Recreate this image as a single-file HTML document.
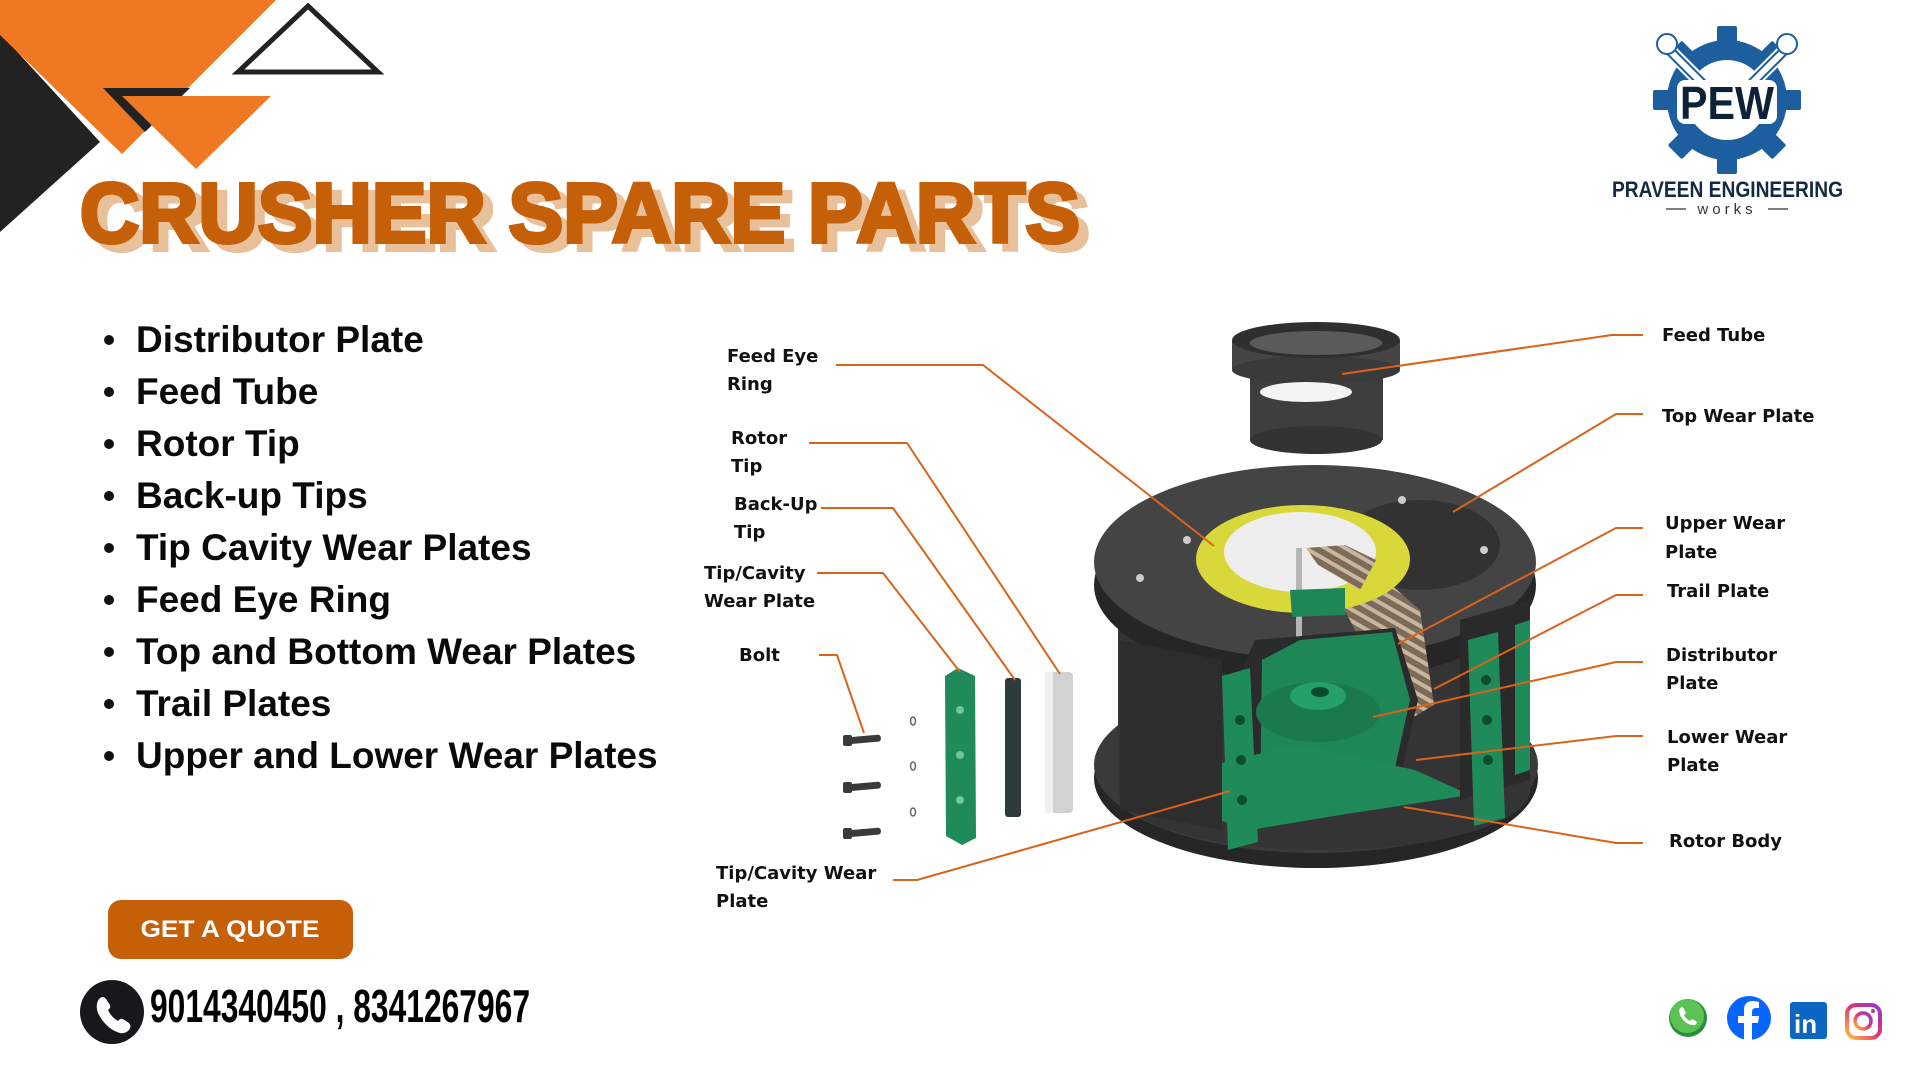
<!DOCTYPE html>
<html><head><meta charset="utf-8"><style>
html,body{margin:0;padding:0;background:#fff;}
svg{display:block;}
text{font-family:"Liberation Sans",sans-serif;}
.lb{font-family:"DejaVu Sans","Liberation Sans",sans-serif;font-weight:bold;font-size:18px;fill:#111;}
.bl{font-weight:bold;font-size:37px;fill:#0a0a0a;}
.ln{fill:none;stroke:#d9631a;stroke-width:2;}
</style></head><body>
<svg width="1920" height="1080" viewBox="0 0 1920 1080" xmlns="http://www.w3.org/2000/svg">
<defs>
<linearGradient id="ig" x1="0" y1="1" x2="1" y2="0"><stop offset="0" stop-color="#fdc242"/><stop offset="0.5" stop-color="#e8336b"/><stop offset="1" stop-color="#8a3ad6"/></linearGradient>
<pattern id="tex" width="10" height="10" patternUnits="userSpaceOnUse" patternTransform="rotate(30)"><rect width="10" height="10" fill="#7d6a58"/><rect width="10" height="4" fill="#c8b8a0"/></pattern>
</defs>
<polygon points="0,33 100,142 0,232" fill="#222"/>
<polygon points="0,0 276,0 122,154 0,35" fill="#ef7823"/>
<polygon points="103,88 190,88 145,132" fill="#222"/>
<polygon points="122,96 271,96 196,169" fill="#ef7823"/>
<polygon points="308,6 378,72 238,72" fill="none" stroke="#222" stroke-width="5" stroke-linejoin="miter"/>
<text x="90" y="250" textLength="1000" lengthAdjust="spacingAndGlyphs" font-size="84" font-weight="bold" fill="#e8c09a" stroke="#e8c09a" stroke-width="4">CRUSHER SPARE PARTS</text>
<text x="80" y="242" textLength="1000" lengthAdjust="spacingAndGlyphs" font-size="84" font-weight="bold" fill="#c55f08" stroke="#c55f08" stroke-width="4">CRUSHER SPARE PARTS</text>
<g>
<circle cx="109" cy="340" r="5" fill="#111"/><text class="bl" x="136" y="352">Distributor Plate</text>
<circle cx="109" cy="392" r="5" fill="#111"/><text class="bl" x="136" y="404">Feed Tube</text>
<circle cx="109" cy="444" r="5" fill="#111"/><text class="bl" x="136" y="456">Rotor Tip</text>
<circle cx="109" cy="496" r="5" fill="#111"/><text class="bl" x="136" y="508">Back-up Tips</text>
<circle cx="109" cy="548" r="5" fill="#111"/><text class="bl" x="136" y="560">Tip Cavity Wear Plates</text>
<circle cx="109" cy="600" r="5" fill="#111"/><text class="bl" x="136" y="612">Feed Eye Ring</text>
<circle cx="109" cy="652" r="5" fill="#111"/><text class="bl" x="136" y="664">Top and Bottom Wear Plates</text>
<circle cx="109" cy="704" r="5" fill="#111"/><text class="bl" x="136" y="716">Trail Plates</text>
<circle cx="109" cy="756" r="5" fill="#111"/><text class="bl" x="136" y="768">Upper and Lower Wear Plates</text>
</g>
<rect x="108" y="900" width="245" height="59" rx="13" fill="#c55f08"/>
<text x="230" y="937" text-anchor="middle" font-size="24" font-weight="bold" fill="#fff" textLength="179" lengthAdjust="spacingAndGlyphs">GET A QUOTE</text>
<circle cx="112" cy="1012" r="32" fill="#17181c"/>
<path d="M99,999 q4,-4 7,0 l4,6 q1,3 -2,5 q3,7 10,11 q2,-3 5,-2 l6,4 q3,3 0,7 q-4,4 -9,3 q-14,-4 -22,-20 q-3,-8 1,-14z" fill="#fff"/>
<text x="150" y="1022" font-size="46" font-weight="bold" fill="#000" textLength="380" lengthAdjust="spacingAndGlyphs">9014340450 , 8341267967</text>
<g transform="translate(1727,100)">
<g fill="#1d5f9e">
<rect x="-10" y="-74" width="20" height="18" rx="2"/>
<rect x="-10" y="-74" width="20" height="18" rx="2" transform="rotate(45)"/>
<rect x="-10" y="-74" width="20" height="18" rx="2" transform="rotate(90)"/>
<rect x="-10" y="-74" width="20" height="18" rx="2" transform="rotate(135)"/>
<rect x="-10" y="-74" width="20" height="18" rx="2" transform="rotate(180)"/>
<rect x="-10" y="-74" width="20" height="18" rx="2" transform="rotate(225)"/>
<rect x="-10" y="-74" width="20" height="18" rx="2" transform="rotate(270)"/>
<rect x="-10" y="-74" width="20" height="18" rx="2" transform="rotate(315)"/>
<circle r="60"/>
</g>
<circle r="40" fill="#fff"/>
<path d="M-58,-50 l38,38 M58,-50 l-38,38" stroke="#fff" stroke-width="14"/>
<path d="M-58,-50 l38,38 M58,-50 l-38,38" stroke="#1d5f9e" stroke-width="10" stroke-linecap="round"/>
<path d="M-58,-50 l38,38 M58,-50 l-38,38" stroke="#fff" stroke-width="6" stroke-linecap="round"/>
<circle cx="-60" cy="-56" r="10" fill="#fff" stroke="#1d5f9e" stroke-width="2"/>
<circle cx="60" cy="-56" r="10" fill="#fff" stroke="#1d5f9e" stroke-width="2"/>
<rect x="-50" y="-20" width="100" height="44" rx="8" fill="#fff"/>
<text x="0" y="19" text-anchor="middle" font-size="46" font-weight="bold" fill="#0d2238" textLength="94" lengthAdjust="spacingAndGlyphs">PEW</text>
</g>
<text x="1612" y="197" font-size="22" font-weight="bold" fill="#142a44" textLength="231" lengthAdjust="spacingAndGlyphs">PRAVEEN ENGINEERING</text>
<line x1="1666" y1="209" x2="1686" y2="209" stroke="#555" stroke-width="1.5"/>
<line x1="1768" y1="209" x2="1788" y2="209" stroke="#555" stroke-width="1.5"/>
<text x="1727" y="214" text-anchor="middle" font-size="15" fill="#333" letter-spacing="4">works</text>
<circle cx="1688" cy="1018" r="19" fill="#2a8f3a"/><circle cx="1687" cy="1016" r="17" fill="#5cc253"/>
<path d="M1680,1008 q3,-2 4,1 l2,4 -2,2 q2,4 6,6 l2,-2 4,2 q2,2 -1,4 q-8,1 -14,-8 q-3,-6 -1,-9z" fill="#fff"/>
<circle cx="1749" cy="1018" r="22" fill="#0866ff"/>
<path d="M1752,1040 v-17 h6 l1,-7 h-7 v-4 q0,-4 4,-4 h3 v-6 q-3,-1 -6,-1 q-9,0 -9,9 v6 h-6 v7 h6 v17z" fill="#fff"/>
<rect x="1790" y="1002" width="37" height="37" rx="3" fill="#0a66c2"/>
<text x="1794" y="1033" font-size="26" font-weight="bold" fill="#fff">in</text>
<rect x="1847" y="1005" width="33" height="33" rx="9" fill="none" stroke="url(#ig)" stroke-width="4"/>
<circle cx="1863" cy="1021" r="8" fill="none" stroke="url(#ig)" stroke-width="3.5"/>
<circle cx="1873" cy="1011" r="2" fill="#c13584"/>
<g>
<rect x="1250" y="355" width="133" height="85" fill="#3e3e3e"/>
<ellipse cx="1316" cy="440" rx="66" ry="14" fill="#333"/>
<rect x="1232" y="340" width="168" height="30" fill="#454545"/>
<ellipse cx="1316" cy="370" rx="84" ry="14" fill="#3a3a3a"/>
<ellipse cx="1316" cy="340" rx="84" ry="18" fill="#2f2f2f"/>
<ellipse cx="1316" cy="343" rx="66" ry="12" fill="#5a5a5a"/>
<ellipse cx="1306" cy="392" rx="46" ry="10" fill="#f4f4f4"/>
</g>
<ellipse cx="1316" cy="778" rx="222" ry="90" fill="#262626"/>
<ellipse cx="1316" cy="765" rx="222" ry="88" fill="#3a3a3a"/>
<rect x="1118" y="585" width="412" height="205" fill="#343434"/>
<ellipse cx="1324" cy="790" rx="206" ry="60" fill="#343434"/>
<ellipse cx="1315" cy="585" rx="221" ry="97" fill="#262626"/>
<ellipse cx="1315" cy="562" rx="221" ry="97" fill="#444"/>
<ellipse cx="1420" cy="545" rx="80" ry="45" fill="#262626" opacity="0.6"/>
<ellipse cx="1300" cy="556" rx="76" ry="40" fill="#eeeeee"/>
<polygon points="1306,548 1345,545 1420,610 1434,705 1400,725 1350,620 1318,565" fill="url(#tex)"/>
<rect x="1296" y="548" width="6" height="125" fill="#b5b5b5"/>
<polygon points="1255,640 1395,628 1418,700 1395,800 1250,822 1228,700" fill="#2b2b2b"/>
<polygon points="1262,660 1300,640 1392,632 1410,700 1390,790 1260,805" fill="#1f8658"/>
<ellipse cx="1318" cy="712" rx="62" ry="30" fill="#1a7a4e"/>
<ellipse cx="1318" cy="696" rx="28" ry="14" fill="#25a06a"/>
<ellipse cx="1320" cy="692" rx="9" ry="5" fill="#0e4a2e"/>
<polygon points="1140,795 1230,760 1300,745 1415,770 1470,795 1340,815 1250,830" fill="#1e8a5a"/>
<polygon points="1460,620 1530,600 1530,780 1460,800" fill="#2a2a2a"/>
<polygon points="1120,640 1222,660 1222,830 1120,810" fill="#2d2d2d"/>
<ellipse cx="1303" cy="559" rx="107" ry="54" fill="#d9d83a"/>
<ellipse cx="1300" cy="552" rx="76" ry="40" fill="#eeeeee"/>
<polygon points="1306,548 1345,545 1376,560 1360,590 1318,565" fill="url(#tex)"/>
<rect x="1296" y="548" width="6" height="60" fill="#b5b5b5"/>
<polygon points="1290,590 1345,588 1345,615 1292,617" fill="#1f8658"/>
<polygon points="1222,676 1250,668 1258,842 1228,850" fill="#1f8a5a"/>
<circle cx="1240" cy="720" r="5" fill="#0f4d30"/><circle cx="1241" cy="760" r="5" fill="#0f4d30"/><circle cx="1242" cy="800" r="5" fill="#0f4d30"/>
<polygon points="1468,640 1498,632 1505,818 1474,826" fill="#1f8a5a"/>
<circle cx="1486" cy="680" r="5" fill="#0f4d30"/><circle cx="1487" cy="720" r="5" fill="#0f4d30"/><circle cx="1488" cy="760" r="5" fill="#0f4d30"/>
<polygon points="1515,625 1530,620 1530,770 1515,775" fill="#1f8a5a"/>
<circle cx="1140" cy="578" r="4" fill="#ccc"/><circle cx="1187" cy="540" r="4" fill="#ccc"/><circle cx="1402" cy="500" r="4" fill="#ccc"/><circle cx="1484" cy="550" r="4" fill="#ccc"/>
<polygon points="945,676 958,668 975,676 976,838 962,845 946,836" fill="#1f8a5a"/>
<circle cx="960" cy="710" r="4" fill="#6fc59a"/><circle cx="960" cy="755" r="4" fill="#6fc59a"/><circle cx="960" cy="800" r="4" fill="#6fc59a"/>
<rect x="1005" y="678" width="16" height="139" rx="3" fill="#2f3a3f"/>
<rect x="1045" y="672" width="28" height="141" rx="4" fill="#d2d2d2"/>
<rect x="1045" y="672" width="8" height="141" fill="#f0f0f0"/>
<g fill="#3a3a3a">
<rect x="845" y="736" width="36" height="7" rx="3" transform="rotate(-5 863 740)"/><rect x="843" y="735" width="9" height="11" rx="2"/>
<rect x="845" y="783" width="36" height="7" rx="3" transform="rotate(-5 863 787)"/><rect x="843" y="782" width="9" height="11" rx="2"/>
<rect x="845" y="829" width="36" height="7" rx="3" transform="rotate(-5 863 833)"/><rect x="843" y="828" width="9" height="11" rx="2"/>
</g>
<g fill="none" stroke="#666" stroke-width="1.5"><ellipse cx="913" cy="721" rx="2.5" ry="4"/><ellipse cx="913" cy="766" rx="2.5" ry="4"/><ellipse cx="913" cy="812" rx="2.5" ry="4"/></g>
<polyline class="ln" points="836,365 983,365 1214,546"/>
<polyline class="ln" points="809,443 907,443 1060,674"/>
<polyline class="ln" points="821,508 893,508 1015,680"/>
<polyline class="ln" points="817,573 883,573 960,672"/>
<polyline class="ln" points="819,655 837,655 864,733"/>
<polyline class="ln" points="893,880 917,880 1230,791"/>
<polyline class="ln" points="1643,335 1612,335 1342,374"/>
<polyline class="ln" points="1643,414 1616,414 1453,512"/>
<polyline class="ln" points="1643,528 1616,528 1398,644"/>
<polyline class="ln" points="1643,595 1616,595 1434,689"/>
<polyline class="ln" points="1643,662 1616,662 1373,717"/>
<polyline class="ln" points="1643,736 1616,736 1416,760"/>
<polyline class="ln" points="1643,843 1616,843 1404,807"/>
<text class="lb" x="727" y="362">Feed Eye</text><text class="lb" x="727" y="390">Ring</text>
<text class="lb" x="731" y="444">Rotor</text><text class="lb" x="731" y="472">Tip</text>
<text class="lb" x="734" y="510">Back-Up</text><text class="lb" x="734" y="538">Tip</text>
<text class="lb" x="704" y="579">Tip/Cavity</text><text class="lb" x="704" y="607">Wear Plate</text>
<text class="lb" x="739" y="661">Bolt</text>
<text class="lb" x="716" y="879">Tip/Cavity Wear</text><text class="lb" x="716" y="907">Plate</text>
<text class="lb" x="1662" y="341">Feed Tube</text>
<text class="lb" x="1662" y="422">Top Wear Plate</text>
<text class="lb" x="1665" y="529">Upper Wear</text><text class="lb" x="1665" y="558">Plate</text>
<text class="lb" x="1667" y="597">Trail Plate</text>
<text class="lb" x="1666" y="661">Distributor</text><text class="lb" x="1666" y="689">Plate</text>
<text class="lb" x="1667" y="743">Lower Wear</text><text class="lb" x="1667" y="771">Plate</text>
<text class="lb" x="1669" y="847">Rotor Body</text>
</svg>
</body></html>
